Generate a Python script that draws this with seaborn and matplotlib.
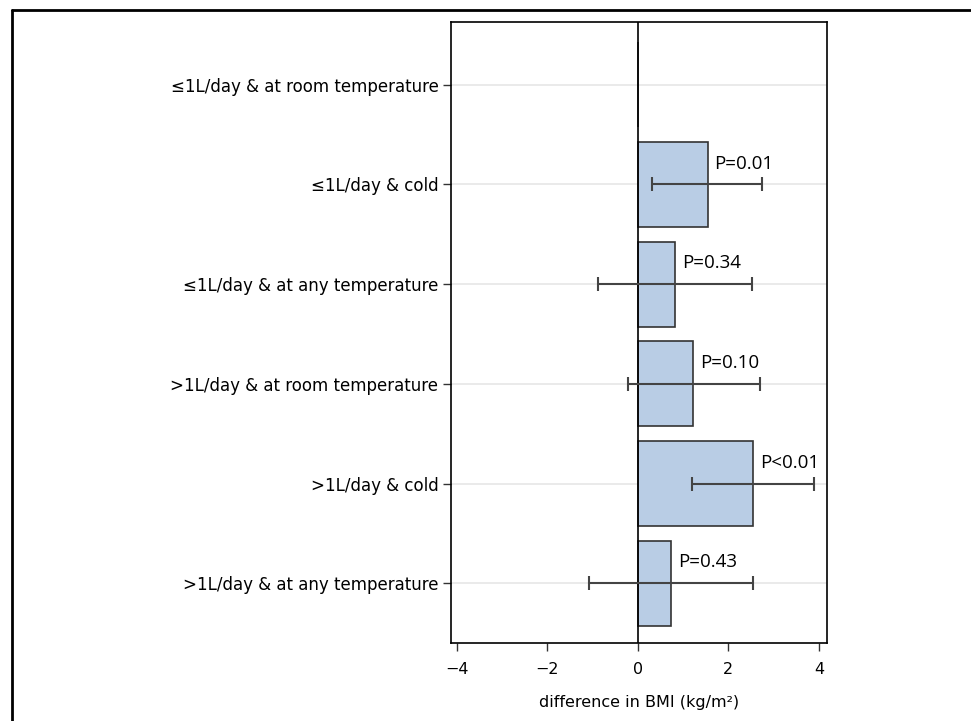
import matplotlib
matplotlib.use('Agg')
import matplotlib.pyplot as plt
import seaborn as sns
import pandas as pd
import numpy as np
from matplotlib.lines import Line2D

categories = [
    "≤1L/day & at room temperature",
    "≤1L/day & cold",
    "≤1L/day & at any temperature",
    ">1L/day & at room temperature",
    ">1L/day & cold",
    ">1L/day & at any temperature",
]
diff = [0.0, 1.54, 0.83, 1.22, 2.55, 0.73]
ci_low = [0.0, 0.32, -0.88, -0.21, 1.20, -1.09]
ci_high = [0.0, 2.74, 2.52, 2.70, 3.90, 2.54]
p_labels = ["", "P=0.01", "P=0.34", "P=0.10", "P<0.01", "P=0.43"]
xticks = [-4, -2, 0, 2, 4]

sns.set_style("white")
plt.rcParams['font.family'] = ['DejaVu Sans']
plt.rcParams['text.color'] = 'black'
plt.rcParams['xtick.color'] = 'black'
plt.rcParams['ytick.color'] = 'black'
plt.rcParams['axes.labelcolor'] = 'black'

df = pd.DataFrame({"cat": categories, "diff": diff})

fig = plt.figure(figsize=(9.71, 7.21), dpi=100)
ax = fig.add_axes([451/971, 1-643/721, (827-451)/971, (643-22)/721])

for i in range(len(categories)):
    ax.axhline(i, color='#e6e6e6', lw=1.2, zorder=0)

sns.barplot(data=df, x="diff", y="cat", orient="h", color="#B9CDE5",
            saturation=1, edgecolor="#333333", linewidth=1.2, width=0.85,
            ax=ax, zorder=2)
ax.axvline(0, color='black', lw=1.2, zorder=3)

d = np.array(diff)
lo = np.array(ci_low)
hi = np.array(ci_high)
ypos = np.arange(len(categories))
mask = hi > lo
ax.errorbar(d[mask], ypos[mask], xerr=[d[mask]-lo[mask], hi[mask]-d[mask]],
            fmt='none', ecolor='#444444', elinewidth=1.5, capsize=5,
            capthick=1.5, zorder=4)

for i, p in enumerate(p_labels):
    if p:
        ax.annotate(p, xy=(d[i], i), xytext=(5, 8.5), textcoords='offset points',
                    ha='left', va='bottom', fontsize=13.5, family=['Open Sans'],
                    color='black', zorder=5)

ax.set_xlim(-4.13, 4.18)
ax.set_ylim(5.6, -0.63)
ax.set_xticks(xticks)
ax.set_xticklabels([str(t).replace('-', '−') for t in xticks])
ax.set_xlabel("difference in BMI (kg/m²)", fontsize=11.5, labelpad=13)
ax.set_ylabel("")
ax.tick_params(axis='both', which='both', direction='out', length=6, width=1,
               color='#333333', labelsize=12, left=True, bottom=True, pad=3)
ax.tick_params(axis='x', labelsize=11.5, pad=8)
for s in ax.spines.values():
    s.set_visible(True)
    s.set_color('black')
    s.set_linewidth(1.2)

fig.add_artist(Line2D([12/971, 12/971], [0, 1-10/721], transform=fig.transFigure,
                      color='black', lw=2))
fig.add_artist(Line2D([12/971, 1], [1-10/721, 1-10/721], transform=fig.transFigure,
                      color='black', lw=2))

fig.savefig("out.png", dpi=100)
